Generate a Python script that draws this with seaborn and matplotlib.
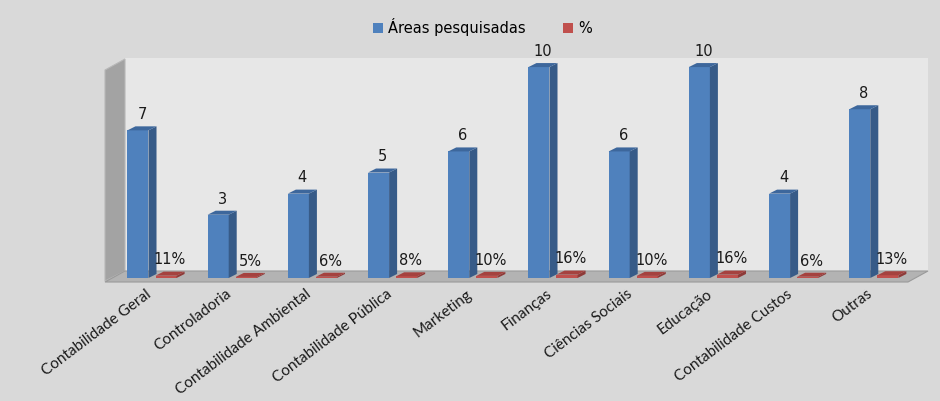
import matplotlib
matplotlib.use("Agg")
import matplotlib.pyplot as plt
import matplotlib.transforms as mtransforms
from matplotlib.patches import Polygon
import seaborn as sns
import pandas as pd

## dados do grafico
categorias = ["Contabilidade Geral", "Controladoria", "Contabilidade Ambiental",
              "Contabilidade Pública", "Marketing", "Finanças", "Ciências Sociais",
              "Educação", "Contabilidade Custos", "Outras"]
areas = [7, 3, 4, 5, 6, 10, 6, 10, 4, 8]
percentual = [0.11, 0.05, 0.06, 0.08, 0.10, 0.16, 0.10, 0.16, 0.06, 0.13]
series = ["Áreas pesquisadas", "%"]

df = pd.DataFrame({
    "categoria": categorias * 2,
    "serie": [series[0]] * len(categorias) + [series[1]] * len(categorias),
    "valor": areas + percentual,
})

azul, vermelho = "#4f81bd", "#c0504d"
azul_lado, vermelho_lado = "#375b88", "#8e3a38"
azul_topo, vermelho_topo = "#3d679c", "#a5423f"

W, H = 940, 401
fig = plt.figure(figsize=(W / 100, H / 100), dpi=100)
fig.patch.set_facecolor("#d9d9d9")

# eixo em pixels: esquerda 105, direita 928, topo 58, base 282
ax = fig.add_axes([105 / W, 1 - 282 / H, 823 / W, 224 / H])
ax.set_facecolor("none")

def pix(pts):
    return [(x / W, 1 - y / H) for x, y in pts]

# paredes e piso do "3D"
ax.add_patch(Polygon(pix([(125, 58), (928, 58), (928, 271), (125, 271)]),
                     closed=True, transform=fig.transFigure, facecolor="#e7e7e7",
                     edgecolor="none", zorder=0, clip_on=False))
ax.add_patch(Polygon(pix([(105, 281), (105, 70), (125, 59), (125, 271)]),
                     closed=True, transform=fig.transFigure, facecolor="#a3a3a3",
                     edgecolor="#b8b8b8", lw=0.8, zorder=0, clip_on=False))
ax.add_patch(Polygon(pix([(105, 282), (908, 282), (928, 271), (125, 271)]),
                     closed=True, transform=fig.transFigure, facecolor="#b3b3b3",
                     edgecolor="#9a9a9a", lw=0.8, zorder=0, clip_on=False))

sns.barplot(data=df, x="categoria", y="valor", hue="serie",
            palette=[azul, vermelho], saturation=1, width=0.7, gap=0.25,
            edgecolor="none", ax=ax, zorder=2)

ax.set_xlim(-0.586, 9.676)
ax.set_ylim(-0.19, 10.43)

# profundidade das barras
dx, dy = 0.10, 0.19
n = len(categorias)
for s, cont in enumerate(ax.containers):
    lado = azul_lado if s == 0 else vermelho_lado
    topo = azul_topo if s == 0 else vermelho_topo
    for k, p in enumerate(cont):
        x, y, w, h = p.get_x(), p.get_y(), p.get_width(), p.get_height()
        ax.add_patch(Polygon([(x + w, y), (x + w + dx, y + dy), (x + w + dx, y + h + dy), (x + w, y + h)],
                             closed=True, facecolor=lado, edgecolor="none", zorder=2))
        ax.add_patch(Polygon([(x, y + h), (x + w, y + h), (x + w + dx, y + h + dy), (x + dx, y + h + dy)],
                             closed=True, facecolor=topo, edgecolor="none", zorder=2))
        txt = f"{areas[k]}" if s == 0 else f"{round(percentual[k] * 100)}%"
        ax.annotate(txt, (x + w / 2 + dx / 2, y + h + dy), xytext=(0, 3),
                    textcoords="offset points", ha="center", va="bottom",
                    fontsize=10.5, color="#1a1a1a", family="DejaVu Sans")

ax.set_xlabel("")
ax.set_ylabel("")
ax.set_yticks([])
for sp in ax.spines.values():
    sp.set_visible(False)
ax.tick_params(axis="x", length=0, pad=5)
ax.set_xticks(range(n))
ax.set_xticklabels(categorias, rotation=37, ha="right", va="top",
                   rotation_mode="anchor", fontsize=11, family="Lato", color="#1a1a1a")
desloc = mtransforms.ScaledTranslation(-7 / 100, 2 / 100, fig.dpi_scale_trans)
for lab in ax.get_xticklabels():
    lab.set_transform(lab.get_transform() + desloc)

sns.move_legend(ax, "center", bbox_to_anchor=(0.4585, 1.138), ncol=2, frameon=False,
                title=None, fontsize=10.5, handlelength=0.7, handleheight=0.7,
                columnspacing=2.6, handletextpad=0.3)

fig.savefig("out.png", dpi=100, facecolor=fig.get_facecolor())
